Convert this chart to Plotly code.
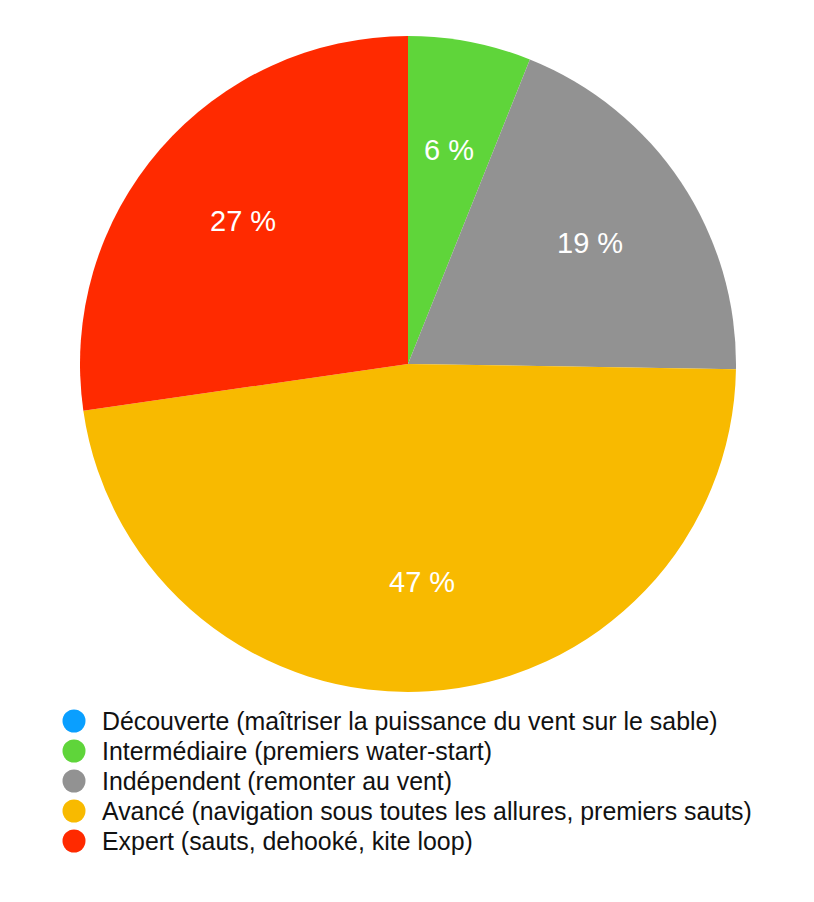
import math
import plotly.graph_objects as go

categories = [
    "Découverte (maîtriser la puissance du vent sur le sable)",
    "Intermédiaire (premiers water-start)",
    "Indépendent (remonter au vent)",
    "Avancé (navigation sous toutes les allures, premiers sauts)",
    "Expert (sauts, dehooké, kite loop)",
]
values = [0, 6, 19, 47, 27]
colors = ["#0A9FFF", "#5FD53A", "#929292", "#F8BA00", "#FF2A00"]

# page has an 8px body margin; figure is placed at (8, 8)
OFF = 8
FW, FH = 814 - 2 * OFF, 902 - 2 * OFF
FONT = "Liberation Sans, Arial, Helvetica, sans-serif"

# pie geometry in page pixels
PX0, PX1, PY0, PY1 = 80, 736, 36, 692
cx_p, cy_p = (PX0 + PX1) / 2, (PY0 + PY1) / 2
R = (PX1 - PX0) / 2


def px(x):
    return (x - OFF) / FW


def py(y):
    return 1 - (y - OFF) / FH


fig = go.Figure()
fig.add_trace(go.Pie(
    labels=categories,
    values=values,
    textinfo="none",
    hoverinfo="label+value",
    sort=False,
    direction="clockwise",
    rotation=0,
    marker=dict(colors=colors, line=dict(width=0)),
    showlegend=False,
    domain=dict(x=[px(PX0), px(PX1)], y=[py(PY1), py(PY0)]),
))

annotations = []
shapes = []

# slice labels placed at 2/3 radius along each slice's mid-angle
total = sum(values)
cum = 0
for v in values:
    if v:
        mid = (cum + v / 2) / total * 2 * math.pi
        lx = cx_p + 0.665 * R * math.sin(mid)
        ly = cy_p - 0.665 * R * math.cos(mid)
        annotations.append(dict(
            text=f"{round(100 * v / total)} %", xref="paper", yref="paper",
            x=px(lx), y=py(ly), xanchor="center", yanchor="middle",
            showarrow=False, font=dict(family=FONT, size=29, color="white"),
        ))
    cum += v

# legend drawn as circles + labels
row0, step, r = 721, 30, 11.5
cx, tx = 74, 100
for i, (cat, col) in enumerate(zip(categories, colors)):
    cy = row0 + i * step
    shapes.append(dict(
        type="circle", xref="paper", yref="paper",
        x0=px(cx - r), x1=px(cx + r),
        y0=py(cy + r), y1=py(cy - r),
        fillcolor=col, line=dict(width=0),
    ))
    annotations.append(dict(
        text=cat, xref="paper", yref="paper",
        x=px(tx), y=py(cy), xanchor="left", yanchor="middle",
        showarrow=False, font=dict(family=FONT, size=24.9, color="#111111"),
    ))

fig.update_layout(
    width=FW, height=FH,
    margin=dict(l=0, r=0, t=0, b=0),
    paper_bgcolor="white", plot_bgcolor="white",
    shapes=shapes, annotations=annotations,
)

fig.write_html("out.html")
